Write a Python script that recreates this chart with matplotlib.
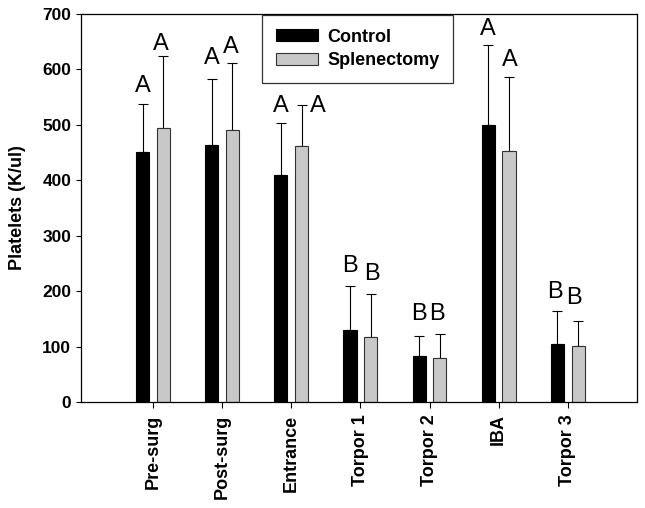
import matplotlib
matplotlib.use("Agg")
import matplotlib.pyplot as plt
import numpy as np

plt.rcParams['font.family'] = ['Liberation Sans', 'DejaVu Sans']

categories = ["Pre-surg", "Post-surg", "Entrance", "Torpor 1", "Torpor 2", "IBA", "Torpor 3"]
control = [451, 463, 409, 129, 83, 499, 105]
control_err = [87, 120, 94, 81, 36, 145, 59]
spleen = [495, 491, 462, 118, 80, 453, 101]
spleen_err = [130, 120, 73, 76, 43, 133, 46]
control_letters = ["A", "A", "A", "B", "B", "A", "B"]
spleen_letters = ["A", "A", "A", "B", "B", "A", "B"]
control_letter_y = [559, 610, 523, 235, 148, 662, 187]
spleen_letter_y = [635, 630, 523, 220, 148, 607, 177]

fig = plt.figure(figsize=(6.45, 5.08), dpi=100)
ax = fig.add_axes([0.1256, 0.2087, 0.862, 0.7637])

x = np.arange(len(categories))
w = 0.19
off = 0.15
ax.bar(x - off, control, width=w, color='black', edgecolor='black', linewidth=0.8, label='Control', zorder=2)
ax.bar(x + off, spleen, width=w, color='#c8c8c8', edgecolor='#333333', linewidth=0.8, label='Splenectomy', zorder=2)
ax.errorbar(x - off, control, yerr=[np.zeros(len(x)), control_err], fmt='none', ecolor='black',
            elinewidth=0.8, capsize=3.6, capthick=0.8, zorder=1)
ax.errorbar(x + off, spleen, yerr=[np.zeros(len(x)), spleen_err], fmt='none', ecolor='black',
            elinewidth=0.8, capsize=3.6, capthick=0.8, zorder=1)

letter_dx_c = [0, 0, 0, 0, 0, 0, -0.04]
letter_dx_s = [-0.03, -0.02, 0.24, 0.02, -0.05, 0.01, -0.06]
for i in range(len(x)):
    ax.text(x[i] - off + letter_dx_c[i], control_letter_y[i], control_letters[i], ha='center', va='baseline', fontsize=17)
    ax.text(x[i] + off + letter_dx_s[i], spleen_letter_y[i], spleen_letters[i], ha='center', va='baseline', fontsize=17)

ax.set_xlim(-1.04, 7.0)
ax.set_ylim(0, 700)
ax.set_yticks(range(0, 701, 100))
ax.set_xticks(x)
ax.set_xticklabels(categories, rotation=90, fontsize=13, fontweight='bold')
for lab in ax.get_yticklabels():
    lab.set_fontweight('bold')
    lab.set_fontsize(12.5)
ax.tick_params(axis='y', direction='out', length=3.5, width=0.8)
ax.tick_params(axis='x', direction='out', length=4, width=0.8, pad=5)
ax.set_ylabel('Platelets (K/ul)', fontsize=13, fontweight='bold', labelpad=12)
for s in ax.spines.values():
    s.set_linewidth(0.9)

leg = ax.legend(loc='upper left', bbox_to_anchor=(0.3256, 0.997), borderaxespad=0,
                prop={'weight': 'bold', 'size': 13}, frameon=True, fancybox=False,
                edgecolor='black', handlelength=2.33, handleheight=0.65, handletextpad=0.55,
                borderpad=0.75, labelspacing=0.35)
leg.get_frame().set_linewidth(0.9)

fig.savefig('out.png', dpi=100)
